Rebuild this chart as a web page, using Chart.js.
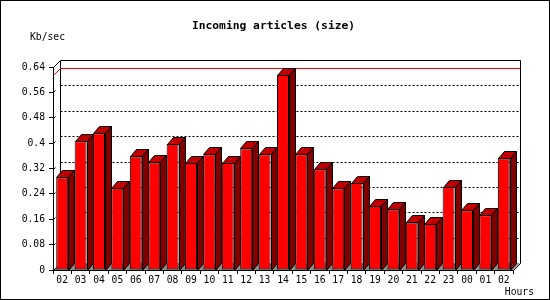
<!DOCTYPE html>
<html>
<head>
<meta charset="utf-8">
<script src="https://cdn.jsdelivr.net/npm/chart.js@4/dist/chart.umd.min.js"></script>
<style>
  html, body { margin: 0; padding: 0; background: #fff; }
</style>
</head>
<body>
<canvas id="chart" width="550" height="300"></canvas>
<script>
const hours = ['02', '03', '04', '05', '06', '07', '08', '09', '10', '11', '12', '13',
  '14', '15', '16', '17', '18', '19', '20', '21', '22', '23', '00', '01', '02'];
const kbPerSec = [0.292, 0.406, 0.431, 0.259, 0.359, 0.340, 0.397, 0.337, 0.365, 0.337, 0.384, 0.365,
  0.615, 0.365, 0.318, 0.258, 0.274, 0.202, 0.191, 0.150, 0.145, 0.262, 0.188, 0.173, 0.352];
const yTicks = [0, 0.08, 0.16, 0.24, 0.32, 0.4, 0.48, 0.56, 0.64];
const yTickLabels = ['0', '0.08', '0.16', '0.24', '0.32', '0.4', '0.48', '0.56', '0.64'];

const DX = 7, DY = 7;      // depth of the back plane
const BAR_DX = 6;          // depth of the bar sides
const MONO = '"DejaVu Sans Mono", monospace';

const px = v => Math.round(v) + 0.5;

function line(ctx, x1, y1, x2, y2) {
  ctx.beginPath();
  ctx.moveTo(x1, y1);
  ctx.lineTo(x2, y2);
  ctx.stroke();
}

const gd3d = {
  id: 'gd3d',
  beforeDraw(chart) {
    const ctx = chart.ctx;
    const { left, right, top, bottom } = chart.chartArea;
    const ys = chart.scales.y;
    ctx.save();
    ctx.fillStyle = '#fff';
    ctx.fillRect(0, 0, chart.width, chart.height);

    // floor
    ctx.fillStyle = '#8c8c8c';
    ctx.beginPath();
    ctx.moveTo(left, bottom);
    ctx.lineTo(right, bottom);
    ctx.lineTo(right + DX, bottom - DY);
    ctx.lineTo(left + DX, bottom - DY);
    ctx.closePath();
    ctx.fill();

    ctx.strokeStyle = '#000';
    ctx.lineWidth = 1;
    // dotted grid on the back plane
    ctx.setLineDash([2, 2]);
    yTicks.slice(1, -1).forEach(v => {
      const y = px(ys.getPixelForValue(v) - DY);
      line(ctx, px(left + DX), y, px(right + DX), y);
    });
    ctx.setLineDash([]);

    // back frame
    ctx.beginPath();
    ctx.moveTo(px(left + DX), px(bottom - DY));
    ctx.lineTo(px(left + DX), px(top - DY));
    ctx.lineTo(px(right + DX), px(top - DY));
    ctx.lineTo(px(right + DX), px(bottom - DY));
    ctx.lineTo(px(right), px(bottom));
    ctx.stroke();
    line(ctx, px(left), px(top), px(left + DX), px(top - DY));

    // small stubs at the left ticks
    yTicks.slice(0, -1).forEach(v => {
      const y = px(ys.getPixelForValue(v));
      line(ctx, px(left), y, px(left) + 2, y - 2);
    });

    // max line
    const maxY = ys.getPixelForValue(Math.max(...kbPerSec));
    ctx.strokeStyle = '#ff0000';
    line(ctx, px(left + DX), px(maxY - DY), px(right + DX), px(maxY - DY));
    line(ctx, px(left), px(maxY), px(left + DX), px(maxY - DY));
    ctx.restore();
  },
  afterDatasetsDraw(chart) {
    const ctx = chart.ctx;
    ctx.save();
    ctx.strokeStyle = '#000';
    ctx.lineWidth = 1;
    chart.getDatasetMeta(0).data.forEach(bar => {
      const l = px(bar.x - bar.width / 2);
      const r = px(bar.x + bar.width / 2);
      const t = px(bar.y);
      const b = px(bar.base);
      // top face
      ctx.fillStyle = '#c00000';
      ctx.beginPath();
      ctx.moveTo(l, t);
      ctx.lineTo(l + BAR_DX, t - DY);
      ctx.lineTo(r + BAR_DX, t - DY);
      ctx.lineTo(r, t);
      ctx.closePath();
      ctx.fill();
      ctx.stroke();
      // side face
      ctx.fillStyle = '#800000';
      ctx.beginPath();
      ctx.moveTo(r, t);
      ctx.lineTo(r + BAR_DX, t - DY);
      ctx.lineTo(r + BAR_DX, b - DY);
      ctx.lineTo(r, b);
      ctx.closePath();
      ctx.fill();
      ctx.stroke();
    });
    ctx.restore();
  },
  afterDraw(chart) {
    const ctx = chart.ctx;
    ctx.save();
    ctx.fillStyle = '#000';
    ctx.textBaseline = 'middle';
    ctx.font = 'bold 11.3px ' + MONO;
    ctx.textAlign = 'center';
    ctx.fillText('Incoming articles (size)', 273.5, 26);
    ctx.font = '9.7px ' + MONO;
    ctx.textAlign = 'left';
    ctx.fillText('Kb/sec', 30, 37);
    ctx.textAlign = 'right';
    ctx.fillText('Hours', 534, 292);
    ctx.strokeStyle = '#000';
    ctx.lineWidth = 1;
    ctx.strokeRect(0.5, 0.5, chart.width - 1, chart.height - 1);
    ctx.restore();
  }
};

new Chart(document.getElementById('chart'), {
  type: 'bar',
  data: {
    labels: hours,
    datasets: [{
      data: kbPerSec,
      backgroundColor: '#ff0000',
      borderColor: '#000',
      borderWidth: 1,
      borderSkipped: false,
      barPercentage: 0.65,
      categoryPercentage: 1
    }]
  },
  options: {
    responsive: false,
    animation: false,
    devicePixelRatio: 1,
    layout: { padding: { top: 67, right: 37, left: 0, bottom: 0 } },
    plugins: {
      legend: { display: false },
      title: { display: false },
      tooltip: { enabled: false }
    },
    scales: {
      x: {
        offset: true,
        grid: { offset: true, drawOnChartArea: false, tickLength: 4, color: '#000' },
        border: { color: '#000' },
        ticks: { color: '#000', font: { family: MONO, size: 9.7 }, padding: 1, maxRotation: 0, autoSkip: false },
        afterFit: s => { s.height = 30; }
      },
      y: {
        min: 0,
        max: 0.64,
        afterBuildTicks: s => { s.ticks = yTicks.map(v => ({ value: v })); },
        grid: { drawOnChartArea: false, tickLength: 4, color: '#000' },
        border: { color: '#000' },
        ticks: {
          color: '#000',
          font: { family: MONO, size: 9.7 },
          padding: 4,
          callback: (v, i) => yTickLabels[i]
        },
        afterFit: s => { s.width = 53; }
      }
    }
  },
  plugins: [gd3d]
});
</script>
</body>
</html>
